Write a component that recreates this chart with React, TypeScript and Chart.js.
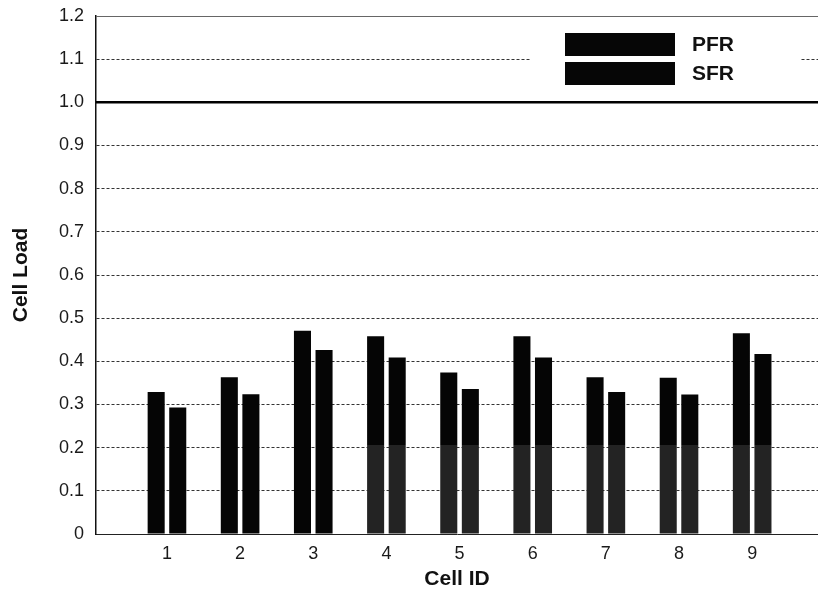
import { useEffect, useRef } from "react";
import { Chart, registerables } from "chart.js";

Chart.register(...registerables);

const cellIds = [1, 2, 3, 4, 5, 6, 7, 8, 9];
const pfrLoad = [0.329, 0.363, 0.471, 0.458, 0.374, 0.458, 0.363, 0.362, 0.465];
const sfrLoad = [0.293, 0.324, 0.426, 0.409, 0.336, 0.409, 0.329, 0.323, 0.417];
const seriesNames = ["PFR", "SFR"];
const yTickLabels = ["0", "0.1", "0.2", "0.3", "0.4", "0.5", "0.6", "0.7", "0.8", "0.9", "1.0", "1.1", "1.2"];
const capacityLimit = 1.0;

const FONT = "'Liberation Sans', Arial, Helvetica, sans-serif";

function barFill(ctx: any) {
  const chart = ctx.chart;
  const area = chart.chartArea;
  if (!area) return "#000";
  const idx = ctx.dataIndex;
  if (idx < 3) return "#050505";
  const y = chart.scales.y;
  const yCut = y.getPixelForValue(0.207);
  const g = chart.ctx.createLinearGradient(0, area.top, 0, area.bottom);
  const t = (yCut - area.top) / (area.bottom - area.top);
  g.addColorStop(0, "#050505");
  g.addColorStop(Math.max(0, t - 0.0001), "#050505");
  g.addColorStop(Math.min(1, t), "#232323");
  g.addColorStop(1, "#232323");
  return g;
}

const overlayPlugin = {
  id: "overlay",
  beforeDatasetsDraw(chart: any) {
    const { ctx, chartArea: a, scales } = chart;
    const y = scales.y;
    ctx.save();
    // top frame line
    const yTop = y.getPixelForValue(1.2);
    ctx.strokeStyle = "#666";
    ctx.lineWidth = 1;
    ctx.beginPath();
    ctx.moveTo(a.left, yTop + 0.5);
    ctx.lineTo(a.right, yTop + 0.5);
    ctx.stroke();
    // solid capacity line
    const yl = y.getPixelForValue(capacityLimit);
    ctx.strokeStyle = "#000";
    ctx.lineWidth = 2.5;
    ctx.beginPath();
    ctx.moveTo(a.left, yl);
    ctx.lineTo(a.right, yl);
    ctx.stroke();
    // legend
    const lx = a.left + 434;
    const ly = a.top + 8;
    ctx.fillStyle = "#fff";
    ctx.fillRect(lx, ly, 270, 72);
    const boxL = a.left + 469;
    const boxW = 110;
    const boxH = 23;
    const rows = [a.top + 17, a.top + 46];
    ctx.font = "bold 21px " + FONT;
    ctx.textBaseline = "middle";
    ctx.textAlign = "left";
    seriesNames.forEach((name, i) => {
      ctx.fillStyle = "#060606";
      ctx.fillRect(boxL, rows[i], boxW, boxH);
      ctx.fillStyle = "#111";
      ctx.fillText(name, boxL + boxW + 17, rows[i] + boxH / 2 + 1);
    });
    ctx.restore();
  },
};

export default function App() {
  const ref = useRef<HTMLCanvasElement | null>(null);
  useEffect(() => {
    if (!ref.current) return;
    const chart = new Chart(ref.current, {
      type: "bar",
      data: {
        datasets: [
          {
            label: seriesNames[0],
            data: cellIds.map((c, i) => ({ x: c, y: pfrLoad[i] })),
            backgroundColor: barFill as any,
            borderWidth: 0,
          },
          {
            label: seriesNames[1],
            data: cellIds.map((c, i) => ({ x: c, y: sfrLoad[i] })),
            backgroundColor: barFill as any,
            borderWidth: 0,
          },
        ],
      },
      options: {
        animation: false,
        responsive: true,
        maintainAspectRatio: false,
        categoryPercentage: 0.59,
        barPercentage: 0.79,
        layout: { padding: { top: 16, right: 0, left: 0, bottom: 0 } },
        plugins: {
          legend: { display: false },
          tooltip: { enabled: false },
        },
        scales: {
          x: {
            type: "linear",
            min: 0.03,
            max: 9.9,
            offset: false,
            afterBuildTicks: (scale: any) => {
              scale.ticks = cellIds.map((v) => ({ value: v }));
            },
            afterFit: (scale: any) => {
              scale.height = 62;
              scale.paddingLeft = 0;
              scale.paddingRight = 0;
            },
            grid: { display: false, offset: false, drawTicks: false },
            border: { display: true, color: "#222", width: 1 },
            ticks: {
              padding: 9,
              color: "#1a1a1a",
              font: { family: FONT, size: 18 },
              callback: (v: any) => String(v),
            },
            title: {
              display: true,
              text: "Cell ID",
              color: "#111",
              font: { family: FONT, size: 21, weight: "bold" },
              padding: { top: 0, bottom: 4 },
            },
          },
          y: {
            min: 0,
            max: 1.2,
            afterBuildTicks: (scale: any) => {
              scale.ticks = yTickLabels.map((_, i) => ({ value: i / 10 }));
            },
            afterFit: (scale: any) => {
              scale.width = 96;
              scale.paddingTop = 0;
              scale.paddingBottom = 0;
            },
            grid: {
              drawTicks: false,
              color: (ctx: any) => {
                const v = Math.round((ctx.tick?.value ?? 0) * 10);
                if (v === 0 || v === 10 || v === 12) return "rgba(0,0,0,0)";
                return "#333";
              },
              lineWidth: 1,
            },
            border: { display: true, color: "#111", width: 1.5, dash: [3, 2] },
            ticks: {
              padding: 12,
              color: "#1a1a1a",
              font: { family: FONT, size: 18 },
              callback: (v: any) => yTickLabels[Math.round(Number(v) * 10)] ?? "",
            },
            title: {
              display: true,
              text: "Cell Load",
              color: "#111",
              font: { family: FONT, size: 21, weight: "bold" },
              padding: { top: 9, bottom: 0 },
            },
          },
        },
      },
      plugins: [overlayPlugin],
    });
    return () => chart.destroy();
  }, []);
  return (
    <div style={{ position: "fixed", left: 0, top: 0, width: 818, height: 596, background: "#fff" }}>
      <canvas ref={ref} />
    </div>
  );
}
